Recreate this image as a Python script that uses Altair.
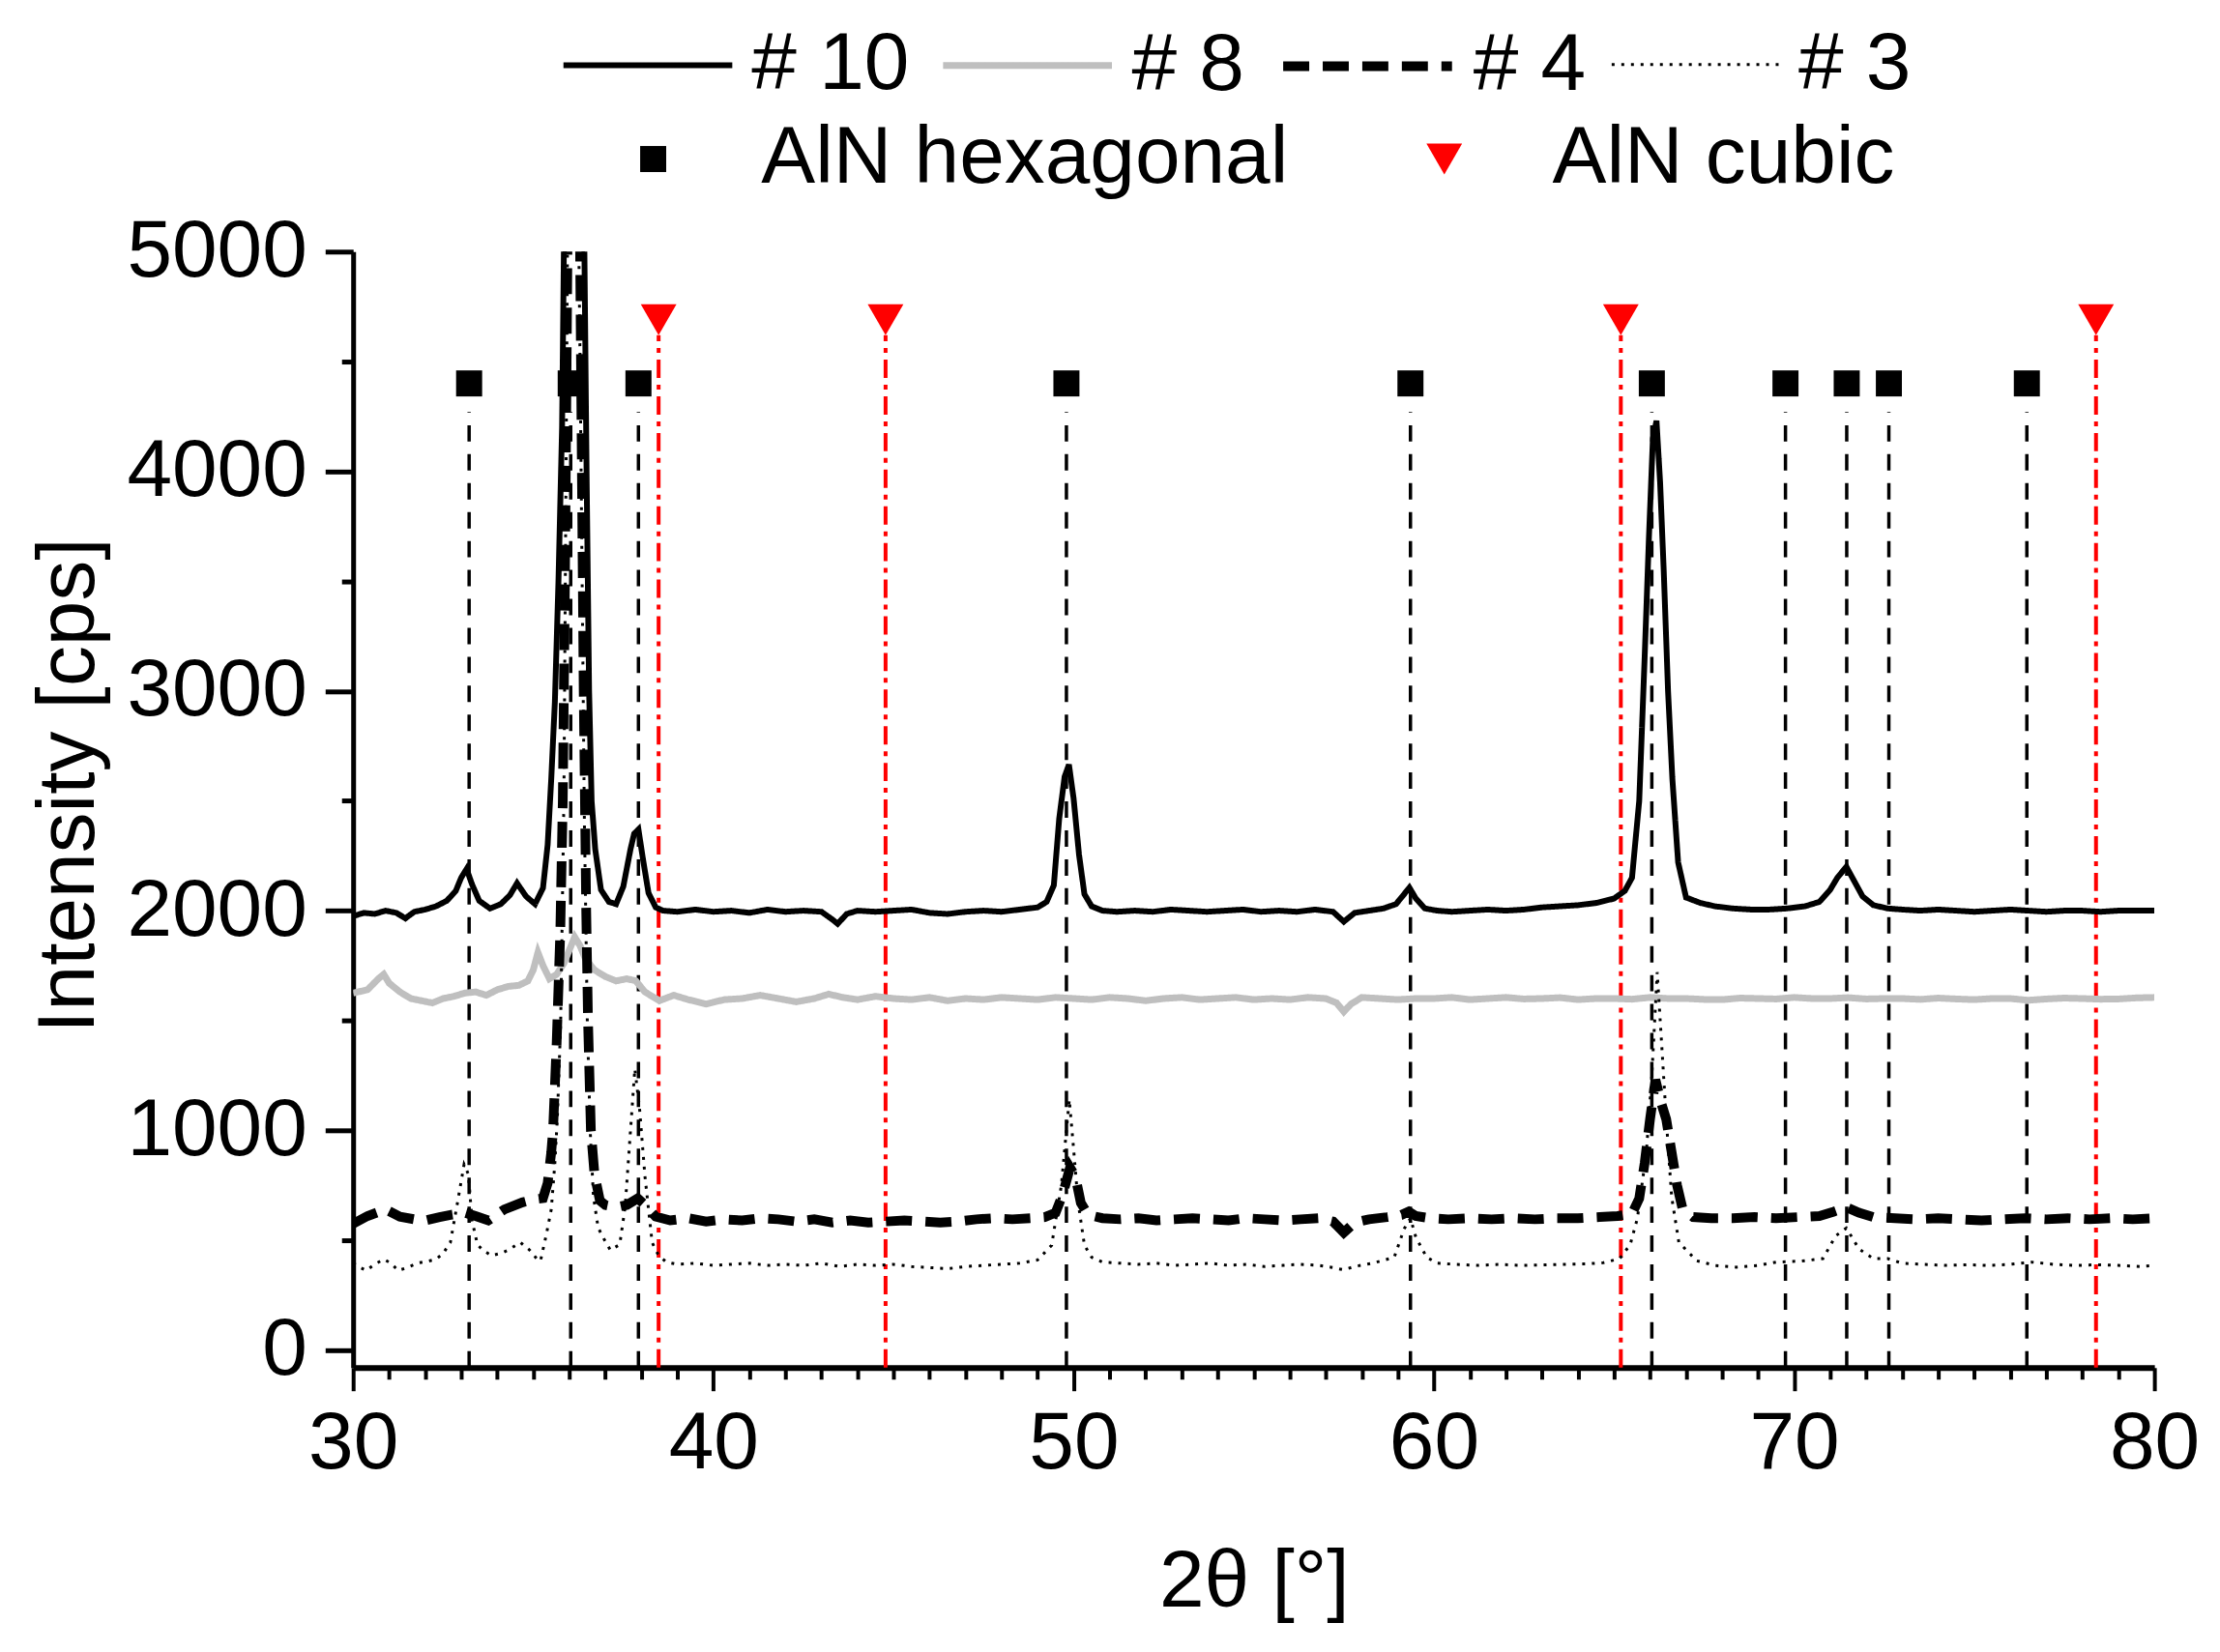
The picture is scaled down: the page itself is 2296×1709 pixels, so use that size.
import altair as alt
import pandas as pd

FONT = "Liberation Sans"

# ---------------- data ----------------
series_names = ["# 10", "# 8", "# 4", "# 3"]

s10 = [(30.0, 1975), (30.3, 1990), (30.6, 1985), (30.9, 2000), (31.2, 1990), (31.45, 1965),
       (31.7, 1995), (32.0, 2005), (32.3, 2020), (32.6, 2045), (32.85, 2090), (33.0, 2150),
       (33.15, 2190), (33.3, 2120), (33.5, 2045), (33.8, 2010), (34.1, 2030), (34.35, 2070),
       (34.55, 2125), (34.8, 2065), (35.05, 2030), (35.27, 2103), (35.4, 2300), (35.5, 2600),
       (35.6, 2950), (35.7, 3500), (35.8, 4200), (35.85, 5000), (35.95, 7000), (36.1, 9000),
       (36.3, 7000), (36.42, 5000), (36.48, 4000), (36.55, 3000), (36.62, 2500), (36.72, 2280),
       (36.88, 2095), (37.1, 2040), (37.3, 2030), (37.5, 2110), (37.7, 2280), (37.8, 2350),
       (37.92, 2370), (38.05, 2230), (38.2, 2080), (38.4, 2015), (38.6, 2000), (39.0, 1995),
       (39.5, 2005), (40.0, 1995), (40.5, 2000), (41.0, 1990), (41.5, 2005), (42.0, 1995),
       (42.5, 2000), (43.0, 1995), (43.3, 1960), (43.45, 1940), (43.7, 1985), (44.0, 2000),
       (44.5, 1995), (45.0, 2000), (45.5, 2005), (46.0, 1990), (46.5, 1985), (47.0, 1995),
       (47.5, 2000), (48.0, 1995), (48.5, 2005), (49.0, 2015), (49.25, 2040), (49.45, 2115),
       (49.6, 2420), (49.75, 2610), (49.87, 2665), (50.0, 2510), (50.15, 2255), (50.3, 2075),
       (50.5, 2020), (50.8, 2000), (51.2, 1995), (51.7, 2000), (52.2, 1995), (52.7, 2005),
       (53.2, 2000), (53.7, 1995), (54.2, 2000), (54.7, 2005), (55.2, 1995), (55.7, 2000),
       (56.2, 1995), (56.7, 2005), (57.2, 1995), (57.5, 1950), (57.8, 1990), (58.2, 2000),
       (58.6, 2010), (58.95, 2030), (59.15, 2070), (59.32, 2105), (59.5, 2055), (59.75, 2010),
       (60.1, 2000), (60.5, 1995), (61.0, 2000), (61.5, 2005), (62.0, 2000), (62.5, 2005),
       (63.0, 2015), (63.5, 2020), (64.0, 2025), (64.5, 2035), (65.0, 2055), (65.3, 2090),
       (65.5, 2150), (65.7, 2500), (65.85, 3150), (65.97, 3700), (66.08, 4150), (66.18, 4230),
       (66.28, 3950), (66.38, 3550), (66.5, 3000), (66.62, 2600), (66.78, 2220), (67.0, 2060),
       (67.4, 2035), (67.8, 2020), (68.3, 2010), (68.8, 2005), (69.3, 2005), (69.8, 2010),
       (70.3, 2020), (70.7, 2040), (71.0, 2095), (71.2, 2150), (71.45, 2200), (71.65, 2140),
       (71.9, 2065), (72.2, 2025), (72.6, 2010), (73.0, 2005), (73.5, 2000), (74.0, 2005),
       (74.5, 2000), (75.0, 1995), (75.5, 2000), (76.0, 2005), (76.5, 2000), (77.0, 1995),
       (77.5, 2000), (78.0, 2000), (78.5, 1995), (79.0, 2000), (79.5, 2000), (80.0, 2000)]

s8 = [(30.0, 1625), (30.4, 1640), (30.7, 1690), (30.85, 1710), (31.0, 1670), (31.3, 1630),
      (31.6, 1600), (31.9, 1590), (32.2, 1580), (32.5, 1600), (32.8, 1610), (33.1, 1625),
      (33.4, 1630), (33.7, 1615), (34.0, 1640), (34.3, 1655), (34.6, 1660), (34.85, 1680),
      (35.0, 1730), (35.13, 1810), (35.27, 1750), (35.45, 1690), (35.65, 1710), (35.85, 1760),
      (36.0, 1820), (36.15, 1880), (36.3, 1840), (36.45, 1780), (36.7, 1730), (37.0, 1700),
      (37.3, 1680), (37.6, 1690), (37.85, 1680), (38.1, 1630), (38.5, 1590), (38.9, 1615),
      (39.3, 1595), (39.8, 1575), (40.3, 1595), (40.8, 1600), (41.3, 1615), (41.8, 1600),
      (42.3, 1585), (42.8, 1600), (43.2, 1620), (43.6, 1605), (44.0, 1595), (44.5, 1610),
      (45.0, 1600), (45.5, 1595), (46.0, 1605), (46.5, 1590), (47.0, 1600), (47.5, 1595),
      (48.0, 1605), (48.5, 1600), (49.0, 1595), (49.5, 1605), (50.0, 1600), (50.5, 1595),
      (51.0, 1605), (51.5, 1600), (52.0, 1590), (52.5, 1600), (53.0, 1605), (53.5, 1595),
      (54.0, 1600), (54.5, 1605), (55.0, 1595), (55.5, 1600), (56.0, 1595), (56.5, 1605),
      (57.0, 1600), (57.3, 1580), (57.5, 1540), (57.7, 1575), (58.0, 1605), (58.5, 1600),
      (59.0, 1595), (59.5, 1600), (60.0, 1600), (60.5, 1605), (61.0, 1595), (61.5, 1600),
      (62.0, 1605), (62.5, 1598), (63.0, 1600), (63.5, 1604), (64.0, 1595), (64.5, 1600),
      (65.0, 1600), (65.5, 1597), (66.0, 1605), (66.5, 1600), (67.0, 1600), (67.5, 1596),
      (68.0, 1595), (68.5, 1602), (69.0, 1600), (69.5, 1598), (70.0, 1605), (70.5, 1600),
      (71.0, 1600), (71.5, 1604), (72.0, 1598), (72.5, 1600), (73.0, 1600), (73.5, 1596),
      (74.0, 1602), (74.5, 1598), (75.0, 1595), (75.5, 1600), (76.0, 1600), (76.5, 1592),
      (77.0, 1598), (77.5, 1602), (78.0, 1600), (78.5, 1597), (79.0, 1598), (79.5, 1603),
      (80.0, 1605)]

s4 = [(30.0, 575), (30.4, 610), (30.9, 640), (31.3, 607), (31.7, 595), (32.0, 590), (32.4, 605),
      (32.7, 615), (33.1, 625), (33.4, 610), (33.75, 590), (34.2, 640), (34.7, 672), (35.0, 685),
      (35.27, 691), (35.4, 760), (35.5, 900), (35.55, 1000), (35.65, 1400), (35.75, 1900),
      (35.82, 2500), (35.88, 3500), (35.95, 5000), (36.1, 8000), (36.3, 5000), (36.4, 3000),
      (36.47, 2000), (36.52, 1500), (36.6, 1000), (36.7, 800), (36.85, 680), (37.0, 660),
      (37.3, 650), (37.6, 660), (37.9, 690), (38.1, 660), (38.4, 607), (38.8, 590), (39.3, 600),
      (39.8, 585), (40.3, 595), (40.8, 590), (41.3, 600), (41.8, 595), (42.3, 585), (42.8, 595),
      (43.3, 580), (43.8, 590), (44.3, 580), (44.8, 585), (45.3, 590), (45.8, 585), (46.3, 580),
      (46.8, 585), (47.3, 595), (47.8, 600), (48.3, 595), (48.8, 600), (49.2, 605), (49.5, 625),
      (49.7, 710), (49.9, 830), (50.05, 790), (50.2, 670), (50.4, 615), (50.8, 600), (51.3, 595),
      (51.8, 600), (52.3, 590), (52.8, 595), (53.3, 600), (53.8, 595), (54.3, 590), (54.8, 600),
      (55.3, 595), (55.8, 590), (56.3, 595), (56.8, 600), (57.2, 585), (57.5, 535), (57.8, 580),
      (58.2, 595), (58.7, 605), (59.1, 615), (59.3, 630), (59.5, 610), (59.9, 600), (60.4, 595),
      (61.0, 600), (61.6, 595), (62.2, 600), (62.8, 595), (63.4, 600), (64.0, 600), (64.6, 605),
      (65.1, 610), (65.5, 620), (65.7, 690), (65.85, 850), (66.0, 1050), (66.15, 1230),
      (66.3, 1130), (66.45, 1050), (66.6, 900), (66.75, 750), (66.9, 645), (67.2, 605),
      (67.7, 600), (68.3, 600), (68.9, 605), (69.5, 600), (70.1, 605), (70.7, 610), (71.1, 630),
      (71.45, 650), (71.8, 625), (72.2, 605), (72.8, 600), (73.4, 595), (74.0, 600), (74.6, 595),
      (75.2, 590), (75.8, 595), (76.4, 600), (77.0, 595), (77.6, 600), (78.2, 595), (78.8, 600),
      (79.4, 595), (80.0, 600)]

s3 = [(30.0, 396), (30.2, 375), (30.36, 362), (30.6, 390), (30.85, 413), (31.05, 395),
      (31.25, 362), (31.5, 375), (31.8, 396), (32.1, 405), (32.3, 413), (32.5, 440), (32.7, 490),
      (32.9, 674), (33.08, 845), (33.2, 800), (33.3, 590), (33.45, 480), (33.6, 455), (33.84, 430),
      (34.1, 440), (34.3, 455), (34.5, 475), (34.64, 490), (34.9, 455), (35.1, 415), (35.2, 405),
      (35.36, 523), (35.5, 640), (35.6, 850), (35.67, 1061), (35.76, 1482), (35.85, 2500),
      (35.95, 5000), (36.1, 7500), (36.3, 4500), (36.42, 2400), (36.5, 1500), (36.58, 1000),
      (36.67, 700), (36.8, 557), (36.96, 506), (37.14, 455), (37.4, 480), (37.55, 650),
      (37.7, 1000), (37.82, 1280), (37.95, 1100), (38.1, 792), (38.3, 489), (38.48, 430),
      (38.7, 400), (39.0, 390), (39.5, 395), (40.0, 385), (40.5, 390), (41.0, 395), (41.5, 385),
      (42.0, 390), (42.5, 385), (43.0, 395), (43.5, 380), (44.0, 390), (44.5, 385), (45.0, 390),
      (45.5, 380), (46.0, 375), (46.5, 370), (47.0, 380), (47.5, 385), (48.0, 390), (48.5, 395),
      (49.0, 410), (49.39, 477), (49.66, 750), (49.8, 1000), (49.88, 1140), (50.0, 914),
      (50.12, 677), (50.3, 477), (50.5, 422), (50.8, 400), (51.3, 395), (51.8, 390), (52.3, 395),
      (52.8, 385), (53.3, 390), (53.8, 395), (54.3, 385), (54.8, 390), (55.3, 380), (55.8, 385),
      (56.3, 390), (56.8, 385), (57.2, 375), (57.5, 365), (57.8, 380), (58.3, 395), (58.9, 422),
      (59.17, 550), (59.35, 600), (59.5, 513), (59.8, 422), (60.1, 395), (60.6, 390), (61.2, 385),
      (61.8, 390), (62.4, 385), (63.0, 387), (63.6, 390), (64.2, 392), (64.7, 397), (65.16, 416),
      (65.45, 480), (65.65, 600), (65.9, 903), (66.05, 1250), (66.2, 1720), (66.32, 1400),
      (66.45, 1052), (66.6, 697), (66.8, 490), (67.3, 406), (67.8, 385), (68.4, 377), (69.0, 385),
      (69.5, 400), (70.2, 405), (70.8, 416), (71.15, 519), (71.45, 555), (71.8, 460), (72.2, 416),
      (72.6, 416), (73.0, 395), (73.6, 390), (74.2, 385), (74.8, 388), (75.4, 385), (76.0, 390),
      (76.6, 400), (77.2, 390), (77.8, 385), (78.4, 388), (79.0, 385), (79.6, 380), (80.0, 385)]

phases = ["AlN hexagonal", "AlN cubic"]
hex_pos = [33.22, 36.04, 37.92, 49.8, 59.35, 66.05, 69.76, 71.46, 72.63, 76.46]
cubic_pos = [38.48, 44.78, 65.19, 78.38]
hex_level = 4400
cubic_level = 4690
hex_line_top = 4270
cubic_line_top = 4620
y_min = -80
y_max = 5000
x_ticks = list(range(30, 81))
y_ticks = list(range(0, 5001, 500))

# ---------------- tables ----------------
rows = []
for name, pts in [("# 8", s8), ("# 3", s3), ("# 4", s4), ("# 10", s10)]:
    for x, y in pts:
        rows.append({"x": x, "y": y, "series": name})
df = pd.DataFrame(rows)

hex_df = pd.DataFrame({"x": hex_pos, "y": [y_min] * len(hex_pos), "y2": [hex_line_top] * len(hex_pos)})
cub_df = pd.DataFrame({"x": cubic_pos, "y": [y_min] * len(cubic_pos), "y2": [cubic_line_top] * len(cubic_pos)})
mk_df = pd.DataFrame({
    "x": hex_pos + cubic_pos,
    "y": [hex_level] * len(hex_pos) + [cubic_level] * len(cubic_pos),
    "phase": [phases[0]] * len(hex_pos) + [phases[1]] * len(cubic_pos),
})

# ---------------- scales / axes ----------------
xscale = alt.Scale(domain=[30, 80], nice=False, zero=False)
yscale = alt.Scale(domain=[y_min, y_max], nice=False, zero=False)

xaxis = alt.Axis(
    values=x_ticks,
    labelExpr="datum.value % 10 === 0 ? datum.label : ''",
    tickSize={"condition": {"test": "datum.value % 10 === 0", "value": 24}, "value": 12},
    tickWidth=4, domainWidth=6, domainColor="black", tickColor="black",
    labelFont=FONT, labelFontSize=84, labelColor="black", labelPadding=14, labelLimit=0,
    labelFlush=False, labelOverlap=False, grid=False,
    title="2θ [°]", titleFont=FONT, titleFontSize=84, titleFontWeight="normal",
    titleColor="black", titlePadding=60,
)
yaxis = alt.Axis(
    values=y_ticks, format="d",
    labelExpr="datum.value % 1000 === 0 ? datum.label : ''",
    tickSize={"condition": {"test": "datum.value % 1000 === 0", "value": 29}, "value": 12},
    tickWidth=5, domainWidth=5, domainColor="black", tickColor="black",
    labelFont=FONT, labelFontSize=84, labelColor="black", labelPadding=19, labelLimit=0,
    labelFlush=False, labelOverlap=False, grid=False,
    title="Intensity [cps]", titleFont=FONT, titleFontSize=84, titleFontWeight="normal",
    titleColor="black", titlePadding=51, titleY=553,
)

X = alt.X("x:Q", scale=xscale, axis=xaxis)
Y = alt.Y("y:Q", scale=yscale, axis=yaxis)

# ---------------- layers ----------------
hex_rules = alt.Chart(hex_df).mark_rule(color="black", strokeWidth=3.5, strokeDash=[17, 13]).encode(
    x=X, y=Y, y2="y2:Q")
cub_rules = alt.Chart(cub_df).mark_rule(color="#ff0000", strokeWidth=4, strokeDash=[19, 7, 5, 7]).encode(
    x=X, y=Y, y2="y2:Q")

leg_lines = alt.Legend(
    title=None, orient="none", legendX=215, legendY=-285, direction="horizontal",
    symbolType="stroke", symbolSize=30625, labelFont=FONT, labelFontSize=84, labelColor="black",
    labelOffset=17, columnPadding=20, labelLimit=0, padding=0,
)
lines = alt.Chart(df).mark_line(clip=True).encode(
    x=X, y=Y,
    stroke=alt.Stroke("series:N", scale=alt.Scale(domain=series_names,
                      range=["black", "#bfbfbf", "black", "black"]), legend=leg_lines),
    strokeDash=alt.StrokeDash("series:N", scale=alt.Scale(domain=series_names,
                              range=[[1, 0], [1, 0], [27, 14], [3, 7]]), legend=leg_lines),
    strokeWidth=alt.StrokeWidth("series:N", scale=alt.Scale(type="ordinal", domain=series_names,
                                range=[6, 7, 10, 3]), legend=leg_lines),
)

leg_pts = alt.Legend(
    title=None, orient="none", legendX=269, legendY=-138, direction="horizontal",
    labelFont=FONT, labelFontSize=84, labelColor="black",
    labelOffset=70, columnPadding=119, labelLimit=0, padding=0,
)
points = alt.Chart(mk_df).mark_point(filled=True, opacity=1, strokeWidth=0).encode(
    x=X, y=Y,
    fill=alt.Fill("phase:N", scale=alt.Scale(domain=phases, range=["black", "#ff0000"]), legend=leg_pts),
    shape=alt.Shape("phase:N", scale=alt.Scale(domain=phases, range=["square", "triangle-down"]), legend=leg_pts),
    size=alt.Size("phase:N", scale=alt.Scale(type="ordinal", domain=phases, range=[729, 1369]), legend=leg_pts),
)

chart = alt.layer(hex_rules, cub_rules, lines, points).properties(
    width=1867, height=1157,
    autosize=alt.AutoSizeParams(type="none"),
    padding={"left": 358, "top": 251, "right": 60, "bottom": 285},
).configure_view(stroke=None)

chart.save("out.html", embed_options={"renderer": "svg", "actions": False})
